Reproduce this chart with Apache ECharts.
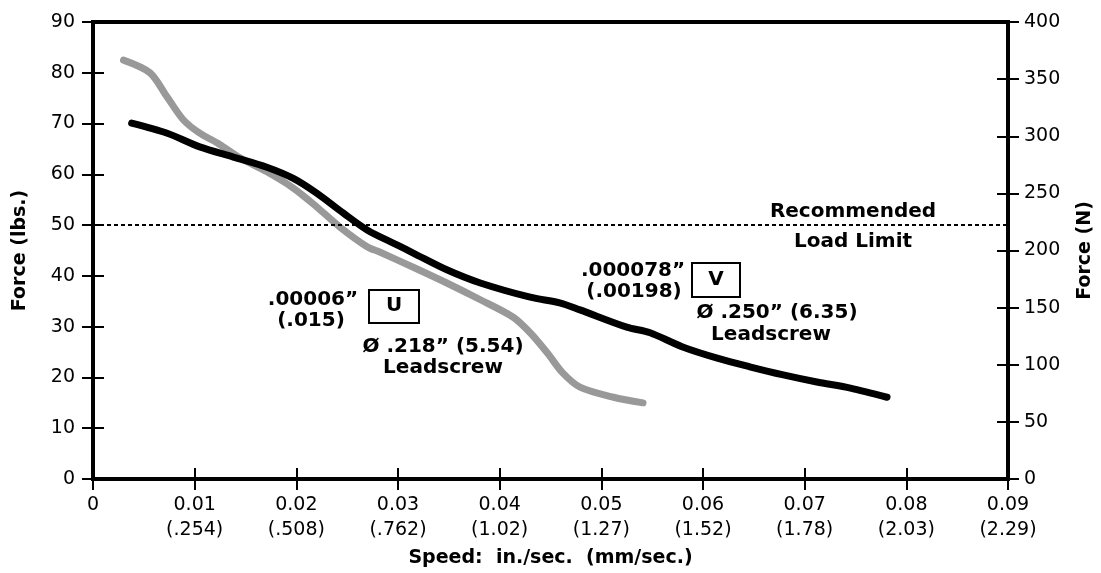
<!DOCTYPE html>
<html>
<head>
<meta charset="utf-8">
<script src="https://cdn.jsdelivr.net/npm/echarts@6/dist/echarts.min.js"></script>
<style>
  html, body { margin: 0; padding: 0; background: #fff; }
  #chart { width: 1101px; height: 573px; }
</style>
</head>
<body>
<div id="chart"></div>
<script>
// tick labels for the speed axis (in./sec. over mm/sec.)
const speedTicksIn = ['0', '0.01', '0.02', '0.03', '0.04', '0.05', '0.06', '0.07', '0.08', '0.09'];
const speedTicksMm = ['', '(.254)', '(.508)', '(.762)', '(1.02)', '(1.27)', '(1.52)', '(1.78)', '(2.03)', '(2.29)'];

// V: .250" leadscrew (black)
const speedV = [0.0038, 0.0073, 0.0105, 0.0138, 0.0171, 0.0197, 0.0220, 0.0246, 0.0270, 0.0299,
  0.0315, 0.0348, 0.0381, 0.0430, 0.0459, 0.0479, 0.0525, 0.0548, 0.0580, 0.0614, 0.0646,
  0.0679, 0.0712, 0.0745, 0.0781];
const forceV = [70.1, 68.1, 65.4, 63.4, 61.4, 59.2, 56.3, 52.4, 49.0, 46.1,
  44.5, 41.2, 38.6, 35.8, 34.7, 33.3, 29.9, 28.8, 26.0, 23.8, 22.1,
  20.5, 19.1, 17.9, 16.1];

// U: .218" leadscrew (gray)
const speedU = [0.0030, 0.0056, 0.0073, 0.0089, 0.0105, 0.0122, 0.0145, 0.0171, 0.0197, 0.0220,
  0.0243, 0.0270, 0.0282, 0.0315, 0.0348, 0.0381, 0.0413, 0.0430, 0.0447, 0.0462, 0.0479,
  0.0512, 0.0541];
const forceU = [82.5, 80.0, 75.2, 70.7, 68.1, 66.2, 63.2, 60.5, 57.3, 53.6,
  49.6, 45.7, 44.7, 41.7, 38.6, 35.3, 31.9, 28.8, 24.8, 20.9, 18.1,
  16.1, 15.0];

const loadLimit = 50;

const chart = echarts.init(document.getElementById('chart'));

const font = '"DejaVu Sans", Verdana, sans-serif';
const nameStyle = { fontFamily: font, fontWeight: 'bold', fontSize: 19, color: '#000' };
const labelStyle = { fontFamily: font, fontSize: 19, color: '#000' };
const tickStyle = { color: '#000', width: 2 };

// one text note, centred on (x, y)
const note = (text, x, y) => ({
  type: 'text', x: x, y: y, z: 10,
  style: { text: text, fontFamily: font, fontWeight: 'bold', fontSize: 20, fill: '#000', align: 'center', verticalAlign: 'middle' }
});

const tickLabel = (v) => {
  const i = Math.round(v * 100);
  const mm = speedTicksMm[i] || '';
  return mm ? speedTicksIn[i] + '\n' + mm : speedTicksIn[i];
};

const gridBox = { left: 93, right: 93, top: 22, bottom: 94, outerBoundsMode: 'none' };

const option = {
  animation: false,
  backgroundColor: '#fff',
  grid: [
    Object.assign({ show: true, borderColor: '#000', borderWidth: 4 }, gridBox),
    Object.assign({ show: false }, gridBox)
  ],
  xAxis: [
    {
      gridIndex: 0, type: 'value', min: 0, max: 0.09, interval: 0.01, position: 'bottom',
      name: 'Speed:  in./sec.  (mm/sec.)', nameLocation: 'middle', nameGap: 70,
      nameTextStyle: nameStyle,
      axisLine: { lineStyle: { color: '#000', width: 4 } },
      axisTick: { length: 11, lineStyle: tickStyle },
      axisLabel: Object.assign({ formatter: tickLabel, margin: 14, lineHeight: 25 }, labelStyle),
      splitLine: { show: false }
    },
    {
      gridIndex: 1, type: 'value', min: 0, max: 0.09, interval: 0.01, position: 'bottom',
      axisLine: { show: false },
      axisTick: { inside: true, length: 11, lineStyle: tickStyle },
      axisLabel: { show: false },
      splitLine: { show: false }
    }
  ],
  yAxis: [
    {
      gridIndex: 0, type: 'value', min: 0, max: 90, interval: 10, position: 'left',
      name: 'Force (lbs.)', nameLocation: 'middle', nameGap: 63, nameRotate: 90,
      nameTextStyle: nameStyle,
      axisLine: { show: true, lineStyle: { color: '#000', width: 4 } },
      axisTick: { show: true, length: 11, lineStyle: tickStyle },
      axisLabel: Object.assign({ margin: 18 }, labelStyle),
      splitLine: { show: false }
    },
    {
      gridIndex: 0, type: 'value', min: 0, max: 400, interval: 50, position: 'right',
      name: 'Force (N)', nameLocation: 'middle', nameGap: 68, nameRotate: 90,
      nameTextStyle: nameStyle,
      axisLine: { show: true, lineStyle: { color: '#000', width: 4 } },
      axisTick: { show: true, length: 11, lineStyle: tickStyle },
      axisLabel: Object.assign({ margin: 16 }, labelStyle),
      splitLine: { show: false }
    },
    {
      gridIndex: 1, type: 'value', min: 0, max: 90, interval: 10, position: 'left',
      axisLine: { show: false },
      axisTick: { show: true, inside: true, length: 11, lineStyle: tickStyle },
      axisLabel: { show: false },
      splitLine: { show: false }
    },
    {
      gridIndex: 1, type: 'value', min: 0, max: 400, interval: 50, position: 'right',
      axisLine: { show: false },
      axisTick: { show: true, inside: true, length: 11, lineStyle: tickStyle },
      axisLabel: { show: false },
      splitLine: { show: false }
    }
  ],
  series: [
    {
      name: 'U',
      type: 'line',
      xAxisIndex: 0, yAxisIndex: 0,
      smooth: 0.3,
      showSymbol: false,
      lineStyle: { color: '#999999', width: 7, cap: 'round', join: 'round' },
      data: speedU.map((s, i) => [s, forceU[i]]),
      z: 3
    },
    {
      name: 'V',
      type: 'line',
      xAxisIndex: 0, yAxisIndex: 0,
      smooth: 0.3,
      showSymbol: false,
      lineStyle: { color: '#000', width: 7, cap: 'round', join: 'round' },
      data: speedV.map((s, i) => [s, forceV[i]]),
      markLine: {
        silent: true,
        symbol: 'none',
        label: { show: false },
        lineStyle: { color: '#000', type: [4, 3], width: 2 },
        data: [{ yAxis: loadLimit }]
      },
      z: 4
    }
  ],
  graphic: [
    note('Recommended', 853, 212),
    note('Load Limit', 853, 242),

    note('.000078\u201D', 633, 271),
    note('(.00198)', 634, 292),
    { type: 'rect', z: 9, shape: { x: 692, y: 263, width: 48, height: 34 }, style: { fill: '#fff', stroke: '#000', lineWidth: 2 } },
    note('V', 716, 280),
    note('\u00D8 .250\u201D (6.35)', 777, 313),
    note('Leadscrew', 771, 335),

    note('.00006\u201D', 313, 300),
    note('(.015)', 311, 321),
    { type: 'rect', z: 9, shape: { x: 369, y: 290, width: 50, height: 33 }, style: { fill: '#fff', stroke: '#000', lineWidth: 2 } },
    note('U', 394, 306),
    note('\u00D8 .218\u201D (5.54)', 443, 347),
    note('Leadscrew', 443, 368)
  ]
};

chart.setOption(option);
window.addEventListener('resize', () => chart.resize());
</script>
</body>
</html>
